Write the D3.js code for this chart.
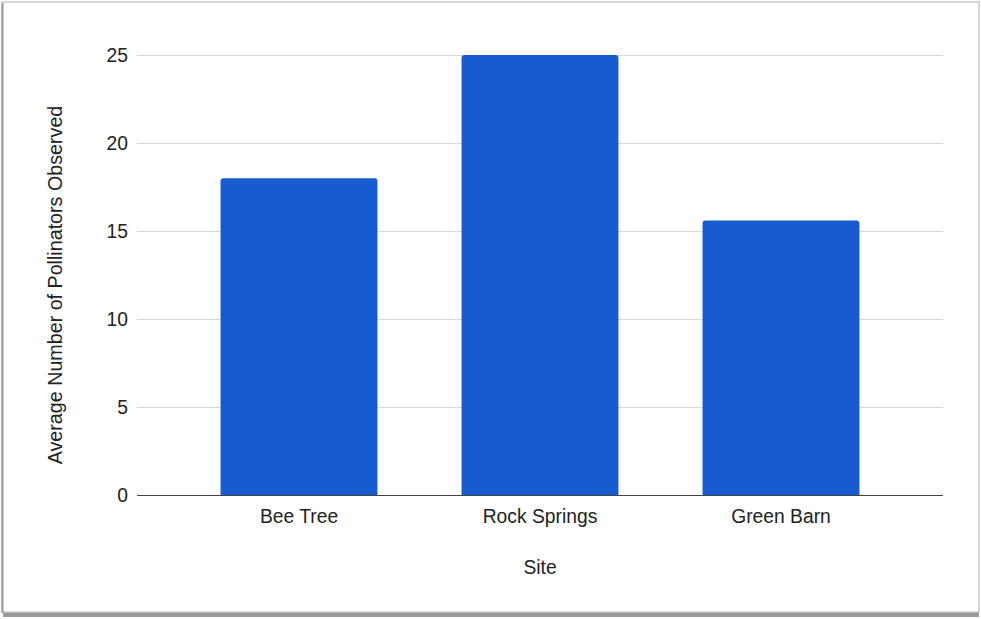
<!DOCTYPE html>
<html>
<head>
<meta charset="utf-8">
<script src="https://cdn.jsdelivr.net/npm/d3@7"></script>
<style>
  html, body { margin: 0; padding: 0; background: #ffffff; }
  svg { display: block; }
  text { font-family: "Liberation Sans", Arial, sans-serif; fill: #222222; }
</style>
</head>
<body>
<svg id="chart" width="981" height="619"></svg>
<script>
// Average pollinator counts by site
const sites = ["Bee Tree", "Rock Springs", "Green Barn"];
const pollinators = [18, 25, 15.6];
const yTicks = [0, 5, 10, 15, 20, 25];
const xTitle = "Site";
const yTitle = "Average Number of Pollinators Observed";

const svg = d3.select("#chart");
const W = 981, H = 619;
const FS = 19.3;

// card frame with a soft shadow along the bottom edge
svg.append("rect").attr("x", 0).attr("y", 0).attr("width", W).attr("height", H).attr("fill", "#ffffff");
svg.append("rect").attr("x", 3).attr("y", 611).attr("width", 976).attr("height", 6).attr("fill", "#9a9a9a");
svg.append("rect").attr("x", 2).attr("y", 2).attr("width", 977).attr("height", 610)
  .attr("fill", "#ffffff").attr("stroke", "#c8c8c8").attr("stroke-width", 1.5);
svg.append("line").attr("x1", 2.5).attr("x2", 2.5).attr("y1", 3).attr("y2", 613)
  .attr("stroke", "#9a9a9a").attr("stroke-width", 2);

const plot = { left: 137, right: 943, top: 55, bottom: 495 };

const y = d3.scaleLinear().domain([0, 25]).range([plot.bottom, plot.top]);
const x = d3.scaleBand().domain(sites).range([178.5, 901.5])
  .paddingInner(0.349).paddingOuter(0.1745);

// horizontal gridlines
svg.append("g").selectAll("line").data(yTicks.filter(t => t !== 0)).join("line")
  .attr("x1", plot.left).attr("x2", plot.right)
  .attr("y1", d => y(d) + 0.5).attr("y2", d => y(d) + 0.5)
  .attr("stroke", "#d9d9d9").attr("stroke-width", 1);

// y tick labels
svg.append("g").selectAll("text").data(yTicks).join("text")
  .attr("x", 128).attr("y", d => y(d)).attr("dy", "0.36em")
  .attr("text-anchor", "end").attr("font-size", FS).text(d => d);

// bars with lightly rounded tops
function barPath(x0, w, yTop, yBase, r) {
  r = Math.min(r, (yBase - yTop) / 2, w / 2);
  return `M${x0},${yBase}V${yTop + r}Q${x0},${yTop} ${x0 + r},${yTop}` +
         `H${x0 + w - r}Q${x0 + w},${yTop} ${x0 + w},${yTop + r}V${yBase}Z`;
}
svg.append("g").selectAll("path").data(sites).join("path")
  .attr("d", (d, i) => barPath(x(d), x.bandwidth(), y(pollinators[i]), y(0), 3))
  .attr("fill", "#185acf");

// baseline
svg.append("line").attr("x1", plot.left).attr("x2", plot.right)
  .attr("y1", y(0) + 0.5).attr("y2", y(0) + 0.5)
  .attr("stroke", "#444444").attr("stroke-width", 1.2);

// category labels
svg.append("g").selectAll("text").data(sites).join("text")
  .attr("x", d => x(d) + x.bandwidth() / 2).attr("y", 523)
  .attr("text-anchor", "middle").attr("font-size", FS).text(d => d);

// axis titles
svg.append("text").attr("x", 540).attr("y", 574).attr("text-anchor", "middle")
  .attr("font-size", FS).text(xTitle);
svg.append("text").attr("transform", "translate(62,285) rotate(-90)")
  .attr("text-anchor", "middle").attr("font-size", 19.7).text(yTitle);
</script>
</body>
</html>
